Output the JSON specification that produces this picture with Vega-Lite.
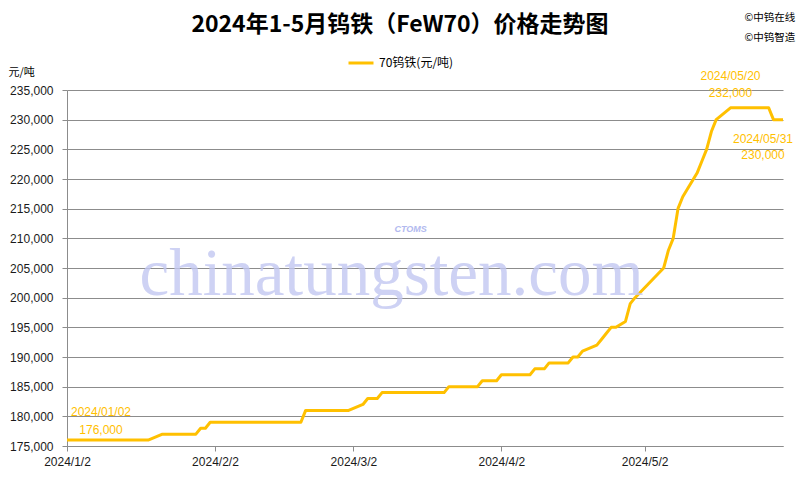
{
  "$schema": "https://vega.github.io/schema/vega-lite/v6.json",
  "width": 716,
  "height": 356,
  "autosize": {"type": "none"},
  "padding": {"left": 67, "top": 90, "right": 17, "bottom": 34},
  "background": "white",
  "config": {"view": {"stroke": null}, "font": "Liberation Sans"},
  "title": {
    "text": "2024年1-5月钨铁（FeW70）价格走势图",
    "font": "Noto Sans CJK SC",
    "fontSize": 23,
    "fontWeight": "bold",
    "color": "#000000",
    "anchor": "middle",
    "frame": "group",
    "dx": -25,
    "dy": 29,
    "offset": 4
  },
  "datasets": {
    "price": [
      {"date": "2024-01-02", "value": 176000},
      {"date": "2024-01-03", "value": 176000},
      {"date": "2024-01-04", "value": 176000},
      {"date": "2024-01-05", "value": 176000},
      {"date": "2024-01-08", "value": 176000},
      {"date": "2024-01-09", "value": 176000},
      {"date": "2024-01-10", "value": 176000},
      {"date": "2024-01-11", "value": 176000},
      {"date": "2024-01-12", "value": 176000},
      {"date": "2024-01-15", "value": 176000},
      {"date": "2024-01-16", "value": 176000},
      {"date": "2024-01-17", "value": 176000},
      {"date": "2024-01-18", "value": 176000},
      {"date": "2024-01-19", "value": 176000},
      {"date": "2024-01-22", "value": 177000},
      {"date": "2024-01-23", "value": 177000},
      {"date": "2024-01-24", "value": 177000},
      {"date": "2024-01-25", "value": 177000},
      {"date": "2024-01-26", "value": 177000},
      {"date": "2024-01-29", "value": 177000},
      {"date": "2024-01-30", "value": 178000},
      {"date": "2024-01-31", "value": 178000},
      {"date": "2024-02-01", "value": 179000},
      {"date": "2024-02-02", "value": 179000},
      {"date": "2024-02-04", "value": 179000},
      {"date": "2024-02-05", "value": 179000},
      {"date": "2024-02-06", "value": 179000},
      {"date": "2024-02-07", "value": 179000},
      {"date": "2024-02-08", "value": 179000},
      {"date": "2024-02-18", "value": 179000},
      {"date": "2024-02-19", "value": 179000},
      {"date": "2024-02-20", "value": 179000},
      {"date": "2024-02-21", "value": 181000},
      {"date": "2024-02-22", "value": 181000},
      {"date": "2024-02-23", "value": 181000},
      {"date": "2024-02-26", "value": 181000},
      {"date": "2024-02-27", "value": 181000},
      {"date": "2024-02-28", "value": 181000},
      {"date": "2024-02-29", "value": 181000},
      {"date": "2024-03-01", "value": 181000},
      {"date": "2024-03-04", "value": 182000},
      {"date": "2024-03-05", "value": 183000},
      {"date": "2024-03-06", "value": 183000},
      {"date": "2024-03-07", "value": 183000},
      {"date": "2024-03-08", "value": 184000},
      {"date": "2024-03-11", "value": 184000},
      {"date": "2024-03-12", "value": 184000},
      {"date": "2024-03-13", "value": 184000},
      {"date": "2024-03-14", "value": 184000},
      {"date": "2024-03-15", "value": 184000},
      {"date": "2024-03-18", "value": 184000},
      {"date": "2024-03-19", "value": 184000},
      {"date": "2024-03-20", "value": 184000},
      {"date": "2024-03-21", "value": 184000},
      {"date": "2024-03-22", "value": 185000},
      {"date": "2024-03-25", "value": 185000},
      {"date": "2024-03-26", "value": 185000},
      {"date": "2024-03-27", "value": 185000},
      {"date": "2024-03-28", "value": 185000},
      {"date": "2024-03-29", "value": 186000},
      {"date": "2024-04-01", "value": 186000},
      {"date": "2024-04-02", "value": 187000},
      {"date": "2024-04-03", "value": 187000},
      {"date": "2024-04-07", "value": 187000},
      {"date": "2024-04-08", "value": 187000},
      {"date": "2024-04-09", "value": 188000},
      {"date": "2024-04-10", "value": 188000},
      {"date": "2024-04-11", "value": 188000},
      {"date": "2024-04-12", "value": 189000},
      {"date": "2024-04-15", "value": 189000},
      {"date": "2024-04-16", "value": 189000},
      {"date": "2024-04-17", "value": 190000},
      {"date": "2024-04-18", "value": 190000},
      {"date": "2024-04-19", "value": 191000},
      {"date": "2024-04-22", "value": 192000},
      {"date": "2024-04-23", "value": 193000},
      {"date": "2024-04-24", "value": 194000},
      {"date": "2024-04-25", "value": 195000},
      {"date": "2024-04-26", "value": 195000},
      {"date": "2024-04-28", "value": 196000},
      {"date": "2024-04-29", "value": 199000},
      {"date": "2024-04-30", "value": 200000},
      {"date": "2024-05-06", "value": 205000},
      {"date": "2024-05-07", "value": 208000},
      {"date": "2024-05-08", "value": 210000},
      {"date": "2024-05-09", "value": 215000},
      {"date": "2024-05-10", "value": 217000},
      {"date": "2024-05-13", "value": 221000},
      {"date": "2024-05-14", "value": 223000},
      {"date": "2024-05-15", "value": 225000},
      {"date": "2024-05-16", "value": 228000},
      {"date": "2024-05-17", "value": 230000},
      {"date": "2024-05-20", "value": 232000},
      {"date": "2024-05-21", "value": 232000},
      {"date": "2024-05-22", "value": 232000},
      {"date": "2024-05-23", "value": 232000},
      {"date": "2024-05-24", "value": 232000},
      {"date": "2024-05-27", "value": 232000},
      {"date": "2024-05-28", "value": 232000},
      {"date": "2024-05-29", "value": 230000},
      {"date": "2024-05-30", "value": 230000},
      {"date": "2024-05-31", "value": 230000}
    ],
    "labels": [
      {"tag": "start", "date": "2024-01-02", "value": 176000, "label": "2024/01/02\n176,000"},
      {"tag": "peak", "date": "2024-05-20", "value": 232000, "label": "2024/05/20\n232,000"},
      {"tag": "end", "date": "2024-05-31", "value": 230000, "label": "2024/05/31\n230,000"}
    ]
  },
  "layer": [
    {
      "data": {"name": "price"},
      "mark": {"type": "line", "strokeWidth": 3, "strokeJoin": "round", "interpolate": "linear"},
      "encoding": {
        "x": {
          "field": "date",
          "type": "temporal",
          "scale": {
            "type": "utc",
            "domain": [
              {"year": 2024, "month": 1, "date": 2, "utc": true},
              {"year": 2024, "month": 5, "date": 31, "utc": true}
            ]
          },
          "axis": {
            "values": [
              {"year": 2024, "month": 1, "date": 2, "utc": true},
              {"year": 2024, "month": 2, "date": 2, "utc": true},
              {"year": 2024, "month": 3, "date": 2, "utc": true},
              {"year": 2024, "month": 4, "date": 2, "utc": true},
              {"year": 2024, "month": 5, "date": 2, "utc": true}
            ],
            "format": "%Y/%-m/%-d",
            "grid": false,
            "domainColor": "#8c8c8c",
            "tickColor": "#8c8c8c",
            "tickSize": 5,
            "labelFontSize": 12,
            "labelColor": "#1a1a1a",
            "labelPadding": 5,
            "labelFlush": false,
            "labelOverlap": false,
            "title": ["©中钨在线", "©中钨智造"],
            "titleFont": "Noto Sans CJK SC",
            "titleFontSize": 10.5,
            "titleFontWeight": "normal",
            "titleColor": "#000000",
            "titleAlign": "left",
            "titleBaseline": "top",
            "titleLineHeight": 20,
            "titleX": 677,
            "titleY": -434
          }
        },
        "y": {
          "field": "value",
          "type": "quantitative",
          "scale": {"domain": [175000, 235000], "nice": false, "zero": false},
          "axis": {
            "values": [175000, 180000, 185000, 190000, 195000, 200000, 205000, 210000, 215000, 220000, 225000, 230000, 235000],
            "tickCount": 13,
            "format": ",.0f",
            "labelOverlap": false,
            "grid": true,
            "gridColor": "#8c8c8c",
            "gridOpacity": 1,
            "domainColor": "#8c8c8c",
            "tickColor": "#8c8c8c",
            "tickSize": 5,
            "labelFontSize": 12,
            "labelColor": "#1a1a1a",
            "labelPadding": 9,
            "title": "元/吨",
            "titleFont": "Noto Sans CJK SC",
            "titleFontSize": 11,
            "titleFontWeight": "normal",
            "titleColor": "#000000",
            "titleAngle": 0,
            "titleAlign": "left",
            "titleBaseline": "middle",
            "titleX": -59,
            "titleY": -18
          }
        },
        "color": {
          "datum": "70钨铁(元/吨)",
          "scale": {"range": ["#FFC000"]},
          "legend": {
            "orient": "none",
            "legendX": 280,
            "legendY": -41,
            "title": null,
            "symbolType": "stroke",
            "symbolStrokeWidth": 3,
            "symbolSize": 625,
            "labelFont": "Noto Sans CJK SC",
            "labelFontSize": 12,
            "labelColor": "#000000",
            "labelOffset": 4
          }
        }
      }
    },
    {
      "data": {"values": [{}]},
      "mark": {
        "type": "text",
        "text": "chinatungsten.com",
        "font": "Liberation Serif",
        "fontSize": 67,
        "color": "#c3c8f2",
        "opacity": 0.8,
        "align": "center",
        "baseline": "middle"
      },
      "encoding": {
        "x": {"datum": {"year": 2024, "month": 3, "date": 10, "utc": true}, "type": "temporal", "axis": {"format": "%Y/%-m/%-d"}},
        "y": {"datum": 203800, "type": "quantitative", "axis": {"format": ",.0f", "tickCount": 13}}
      }
    },
    {
      "data": {"values": [{}]},
      "mark": {
        "type": "text",
        "text": "CTOMS",
        "font": "Liberation Sans",
        "fontSize": 9,
        "fontWeight": "bold",
        "fontStyle": "italic",
        "color": "#aab2ee",
        "opacity": 0.9,
        "align": "center",
        "baseline": "middle"
      },
      "encoding": {
        "x": {"datum": {"year": 2024, "month": 3, "date": 14, "utc": true}, "type": "temporal", "axis": {"format": "%Y/%-m/%-d"}},
        "y": {"datum": 211600, "type": "quantitative", "axis": {"format": ",.0f", "tickCount": 13}}
      }
    },
    {
      "data": {"name": "labels"},
      "transform": [{"filter": "datum.tag == 'start'"}],
      "mark": {"type": "text", "color": "#FFC000", "fontSize": 12, "align": "center", "baseline": "middle", "lineBreak": "\n", "lineHeight": 18, "dx": 34, "dy": -28},
      "encoding": {
        "x": {"field": "date", "type": "temporal", "axis": {"format": "%Y/%-m/%-d"}},
        "y": {"field": "value", "type": "quantitative", "axis": {"format": ",.0f", "tickCount": 13}},
        "text": {"field": "label"}
      }
    },
    {
      "data": {"name": "labels"},
      "transform": [{"filter": "datum.tag == 'peak'"}],
      "mark": {"type": "text", "color": "#FFC000", "fontSize": 12, "align": "center", "baseline": "middle", "lineBreak": "\n", "lineHeight": 17, "dx": 0, "dy": -32},
      "encoding": {
        "x": {"field": "date", "type": "temporal", "axis": {"format": "%Y/%-m/%-d"}},
        "y": {"field": "value", "type": "quantitative", "axis": {"format": ",.0f", "tickCount": 13}},
        "text": {"field": "label"}
      }
    },
    {
      "data": {"name": "labels"},
      "transform": [{"filter": "datum.tag == 'end'"}],
      "mark": {"type": "text", "color": "#FFC000", "fontSize": 12, "align": "center", "baseline": "middle", "lineBreak": "\n", "lineHeight": 16, "dx": -20, "dy": 19},
      "encoding": {
        "x": {"field": "date", "type": "temporal", "axis": {"format": "%Y/%-m/%-d"}},
        "y": {"field": "value", "type": "quantitative", "axis": {"format": ",.0f", "tickCount": 13}},
        "text": {"field": "label"}
      }
    }
  ]
}
